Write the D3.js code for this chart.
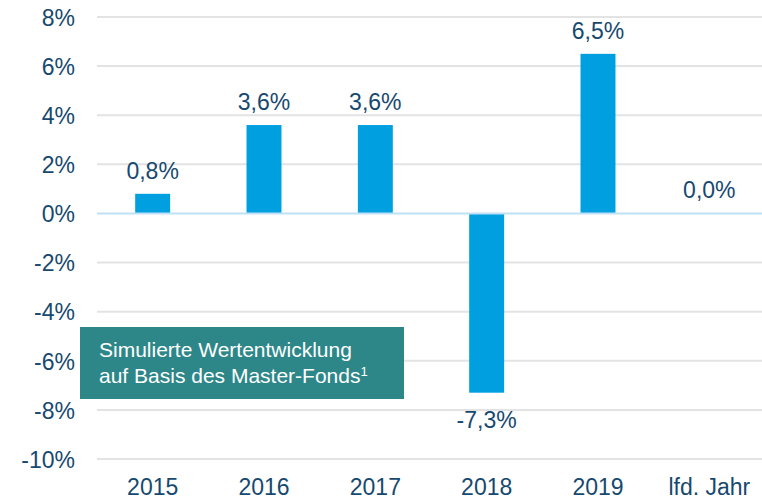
<!DOCTYPE html>
<html>
<head>
<meta charset="utf-8">
<script src="https://cdn.jsdelivr.net/npm/d3@7"></script>
<style>
  body { margin: 0; background: #fff; }
  svg text { font-family: "Liberation Sans", Arial, sans-serif; }
</style>
</head>
<body>
<script>
const W = 762, H = 499
const MARGIN = { top: 17, right: -3, bottom: 40, left: 97 }
const FONT_SIZE = 23

const TEXT_COLOR = '#17496f'
const BAR_COLOR = '#009fe0'
const BOX_COLOR = '#2d8788'

// data
const categories = ['2015', '2016', '2017', '2018', '2019', 'lfd. Jahr']
const values = [0.8, 3.6, 3.6, -7.3, 6.5, 0.0]
const labels = ['0,8%', '3,6%', '3,6%', '-7,3%', '6,5%', '0,0%']
const yTicks = [8, 6, 4, 2, 0, -2, -4, -6, -8, -10]
const boxLines = ['Simulierte Wertentwicklung', 'auf Basis des Master-Fonds']

const width = W - MARGIN.left - MARGIN.right
const height = H - MARGIN.top - MARGIN.bottom

const x = d3.scaleBand()
  .domain(categories)
  .range([0, width])
  .paddingInner(0.686)
  .paddingOuter(0.343)

const y = d3.scaleLinear()
  .domain([-10, 8])
  .range([442, 0])

const svg = d3.select('body').append('svg')
  .attr('width', W)
  .attr('height', H)

const g = svg.append('g')
  .attr('transform', 'translate(' + [MARGIN.left, MARGIN.top] + ')')

// gridlines
g.append('g')
  .attr('class', 'grid')
  .selectAll('line')
  .data(yTicks.filter((d) => d !== 0))
  .enter().append('line')
    .attr('x1', 0)
    .attr('x2', width)
    .attr('y1', (d) => y(d))
    .attr('y2', (d) => y(d))
    .attr('stroke', '#e3e3e3')
    .attr('stroke-width', 2)

// y axis labels
const yAxis = d3.axisLeft(y)
  .tickValues(yTicks)
  .tickFormat((d) => d + '%')
  .tickSize(0)
  .tickPadding(22)

g.append('g')
  .attr('class', 'y axis')
  .call(yAxis)
  .call((s) => s.select('.domain').remove())
  .selectAll('text')
    .attr('fill', TEXT_COLOR)
    .attr('font-size', FONT_SIZE)
    .attr('dy', '0.36em')

// bars
g.append('g')
  .attr('class', 'bars')
  .selectAll('rect')
  .data(values)
  .enter().append('rect')
    .attr('x', (d, i) => x(categories[i]))
    .attr('width', x.bandwidth())
    .attr('y', (d) => y(Math.max(0, d)))
    .attr('height', (d) => Math.abs(y(d) - y(0)))
    .attr('fill', BAR_COLOR)

// zero line
g.append('line')
  .attr('x1', 0)
  .attr('x2', width)
  .attr('y1', y(0))
  .attr('y2', y(0))
  .attr('stroke', '#bfe1f6')
  .attr('stroke-width', 2)

// value labels
g.append('g')
  .attr('class', 'values')
  .selectAll('text')
  .data(values)
  .enter().append('text')
    .attr('x', (d, i) => x(categories[i]) + x.bandwidth() / 2)
    .attr('y', (d) => d >= 0 ? y(d) - 15 : y(d) + 35)
    .attr('text-anchor', 'middle')
    .attr('fill', TEXT_COLOR)
    .attr('font-size', FONT_SIZE)
    .text((d, i) => labels[i])

// x axis labels
const xAxis = d3.axisBottom(x).tickSize(0).tickPadding(0)

g.append('g')
  .attr('class', 'x axis')
  .attr('transform', 'translate(0,' + y(-10) + ')')
  .call(xAxis)
  .call((s) => s.select('.domain').remove())
  .selectAll('text')
    .attr('fill', TEXT_COLOR)
    .attr('font-size', FONT_SIZE)
    .attr('dy', null)
    .attr('y', 36)

// annotation box
const box = svg.append('g')
  .attr('transform', 'translate(80,327)')

box.append('rect')
  .attr('width', 324)
  .attr('height', 72)
  .attr('fill', BOX_COLOR)

const boxText = box.append('text')
  .attr('fill', '#fff')
  .attr('font-size', 21)

boxText.selectAll('tspan')
  .data(boxLines)
  .enter().append('tspan')
    .attr('x', 19)
    .attr('y', (d, i) => 30 + i * 26)
    .text((d) => d)

boxText.append('tspan')
  .attr('font-size', 13)
  .attr('dy', -7)
  .text('1')
</script>
</body>
</html>
